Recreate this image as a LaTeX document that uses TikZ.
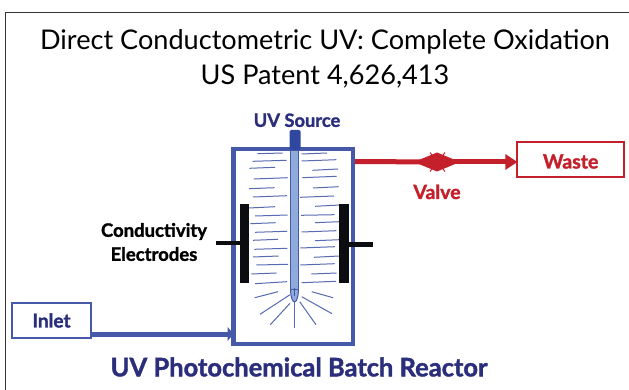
\documentclass[tikz,border=0pt]{standalone}
\usepackage{fontspec}
\setmainfont[BoldFeatures={FakeBold=1.5}]{Lato}
\usepackage{xcolor}
\usetikzlibrary{shapes.geometric,arrows.meta,positioning}
\definecolor{wallblue}{HTML}{4659A8}
\definecolor{capblue}{HTML}{2F479F}
\definecolor{lampblue}{HTML}{8FAADC}
\definecolor{labelnavy}{HTML}{2B2E7B}
\definecolor{pipered}{HTML}{C4202B}
\definecolor{railblack}{HTML}{0B0D10}

\begin{document}
\begin{tikzpicture}[
  x=1pt, y=-1pt,
  outer sep=0pt, inner sep=0pt,
  titletext/.style={font=\fontsize{27.1}{35}\selectfont, align=center, text=black},
  navylabel/.style={font=\fontsize{19}{22}\selectfont\bfseries, text=labelnavy},
  blacklabel/.style={font=\fontsize{18.5}{24}\selectfont\bfseries, align=center, text=black},
  redlabel/.style={font=\fontsize{19.5}{22}\selectfont\bfseries, text=pipered},
  flowbox/.style={rectangle, draw, line width=2pt, fill=white},
  rail/.style={rectangle, fill=railblack, minimum width=9.5pt, minimum height=79pt},
  lead/.style={line width=4.5pt, railblack},
  glow/.style={line width=1pt, wallblue!90},
  bluepipe/.style={line width=5pt, wallblue, -{Triangle[length=6pt,width=14pt]}},
  redpipe/.style={line width=5pt, pipered}
]
\useasboundingbox (0,0) rectangle (629,390);
\draw[line width=1.2pt, black!80] (5.5,390) -- (5.5,12.5) -- (629,12.5);
\node[titletext] (title) at (325,59) {Direct Conductometric UV: Complete Oxidation\\US Patent 4,626,413};

% reactor
\node[rectangle, draw=wallblue, line width=4.5pt, fill=white, minimum width=119.5pt, minimum height=195pt] (reactor) at (293.25,246.5) {};
\node[navylabel, font=\fontsize{25.5}{30}\selectfont\bfseries] (reactorname) at (299,367) {UV Photochemical Batch Reactor};

% lamp
\node[rectangle, draw=wallblue, line width=1.2pt, fill=lampblue, minimum width=8pt, minimum height=140pt] (lamp) at (294.5,220) {};
\node[rectangle, rounded corners=1.5pt, fill=capblue, minimum width=11pt, minimum height=20pt] (lampcap) at (295,140) {};
\node[navylabel, font=\fontsize{18.3}{22}\selectfont\bfseries, above=3pt of lampcap, xshift=2pt] (source) {UV Source};
\draw[line width=1pt, wallblue, fill=lampblue] (lamp.south west) .. controls (290.7,297) and (292.5,302) .. (294.5,302) .. controls (296.5,302) and (298.3,297) .. (lamp.south east);
\draw[line width=1pt, wallblue] (294.7,287.5) -- (294.7,296) (291,289.5) -- (298,289.5);

% dashes, left then right
\foreach \xa/\ya/\xb/\yb in {257.3/153.7/282.7/153, 252.7/161.3/286.7/160.3, 249.3/168.3/275/167.3, 253.7/179/287.7/177.7, 249/188.7/274.7/187.7, 253/197/287/195.7, 249/208/275/206.7, 255/216/287.7/215, 250.3/223.7/275.7/222.7, 255/232.3/287/231.3, 253/240.3/278/239.3, 254.3/249.3/287.3/248.3, 253/257/278.7/256, 256.3/265/288/264.3, 251.3/274/276.7/273, 255/283.7/287/281.7, 254.7/297.7/278/291.7}
  \draw[glow] (\xa,\ya) -- (\xb,\yb);
\foreach \xa/\ya/\xb/\yb in {301.7/154/327/153, 301.7/161/336.3/159.7, 312.3/170.3/338/169, 302.3/177.7/336.7/176.3, 313/188/338.7/186.7, 300/197.3/334/196, 315/206.3/340/205, 301/215.3/334.7/214.7, 315/222.7/339.3/221.7, 301.7/232/336.3/230.7, 315/240.7/339.3/239.7, 300.3/248/335/246.7, 314/257.3/339.3/256, 300.3/265/334.7/263.7, 311.3/274/336.7/273, 301.7/282.7/336/281.3, 311.7/291.7/333/297.7}
  \draw[glow] (\xa,\ya) -- (\xb,\yb);
% rays
\foreach \xa/\ya/\xb/\yb in {290/294.7/260/314.3, 290/303.3/270.3/324.7, 294.7/301.7/294.7/327.7, 299.7/301.7/316/324.7, 301.7/296.7/332/313.7}
  \draw[glow] (\xa,\ya) -- (\xb,\yb);

% electrodes
\node[rail] (railleft) at (244.5,243.5) {};
\node[rail] (railright) at (344,243.5) {};
\coordinate (leadleft) at (216,243);
\coordinate (leadright) at (373,244.5);
\draw[lead] (leadleft) -- (leadleft -| railleft.west);
\draw[lead] (leadright -| railright.east) -- (leadright);
\node[blacklabel] (electrodes) at (154,242) {Conductivity\\Electrodes};

% inlet
\node[flowbox, draw=wallblue, minimum width=79.5pt, minimum height=35.5pt] (inlet) at (51.5,320.5) {};
\node[navylabel] (inlettext) at (inlet) {Inlet};
\coordinate (inletout) at (91,334);
\draw[bluepipe] (inletout) -- (inletout -| reactor.west);

% outlet
\coordinate (valvemid) at (437,162);
\coordinate (reactorout) at (355,161.5);
\node[flowbox, draw=pipered, minimum width=106.5pt, minimum height=34.5pt] (waste) at (570.7,159.5) {};
\node[redlabel, yshift=-2pt] (wastetext) at (waste) {Waste};
\draw[redpipe] (reactorout) -- (valvemid);
\draw[redpipe, -{Triangle[length=12pt,width=15pt]}] (valvemid) -- (valvemid -| waste.west);
\node[diamond, fill=pipered, minimum width=46pt, minimum height=19pt, aspect=2.4] (valve) at (valvemid) {};
\draw[line width=1pt, pipered] (430,152.5) -- (445,171.5) (445,152.5) -- (430,171.5);
\node[redlabel, below=13pt of valve] (valvetext) {Valve};
\end{tikzpicture}
\end{document}
